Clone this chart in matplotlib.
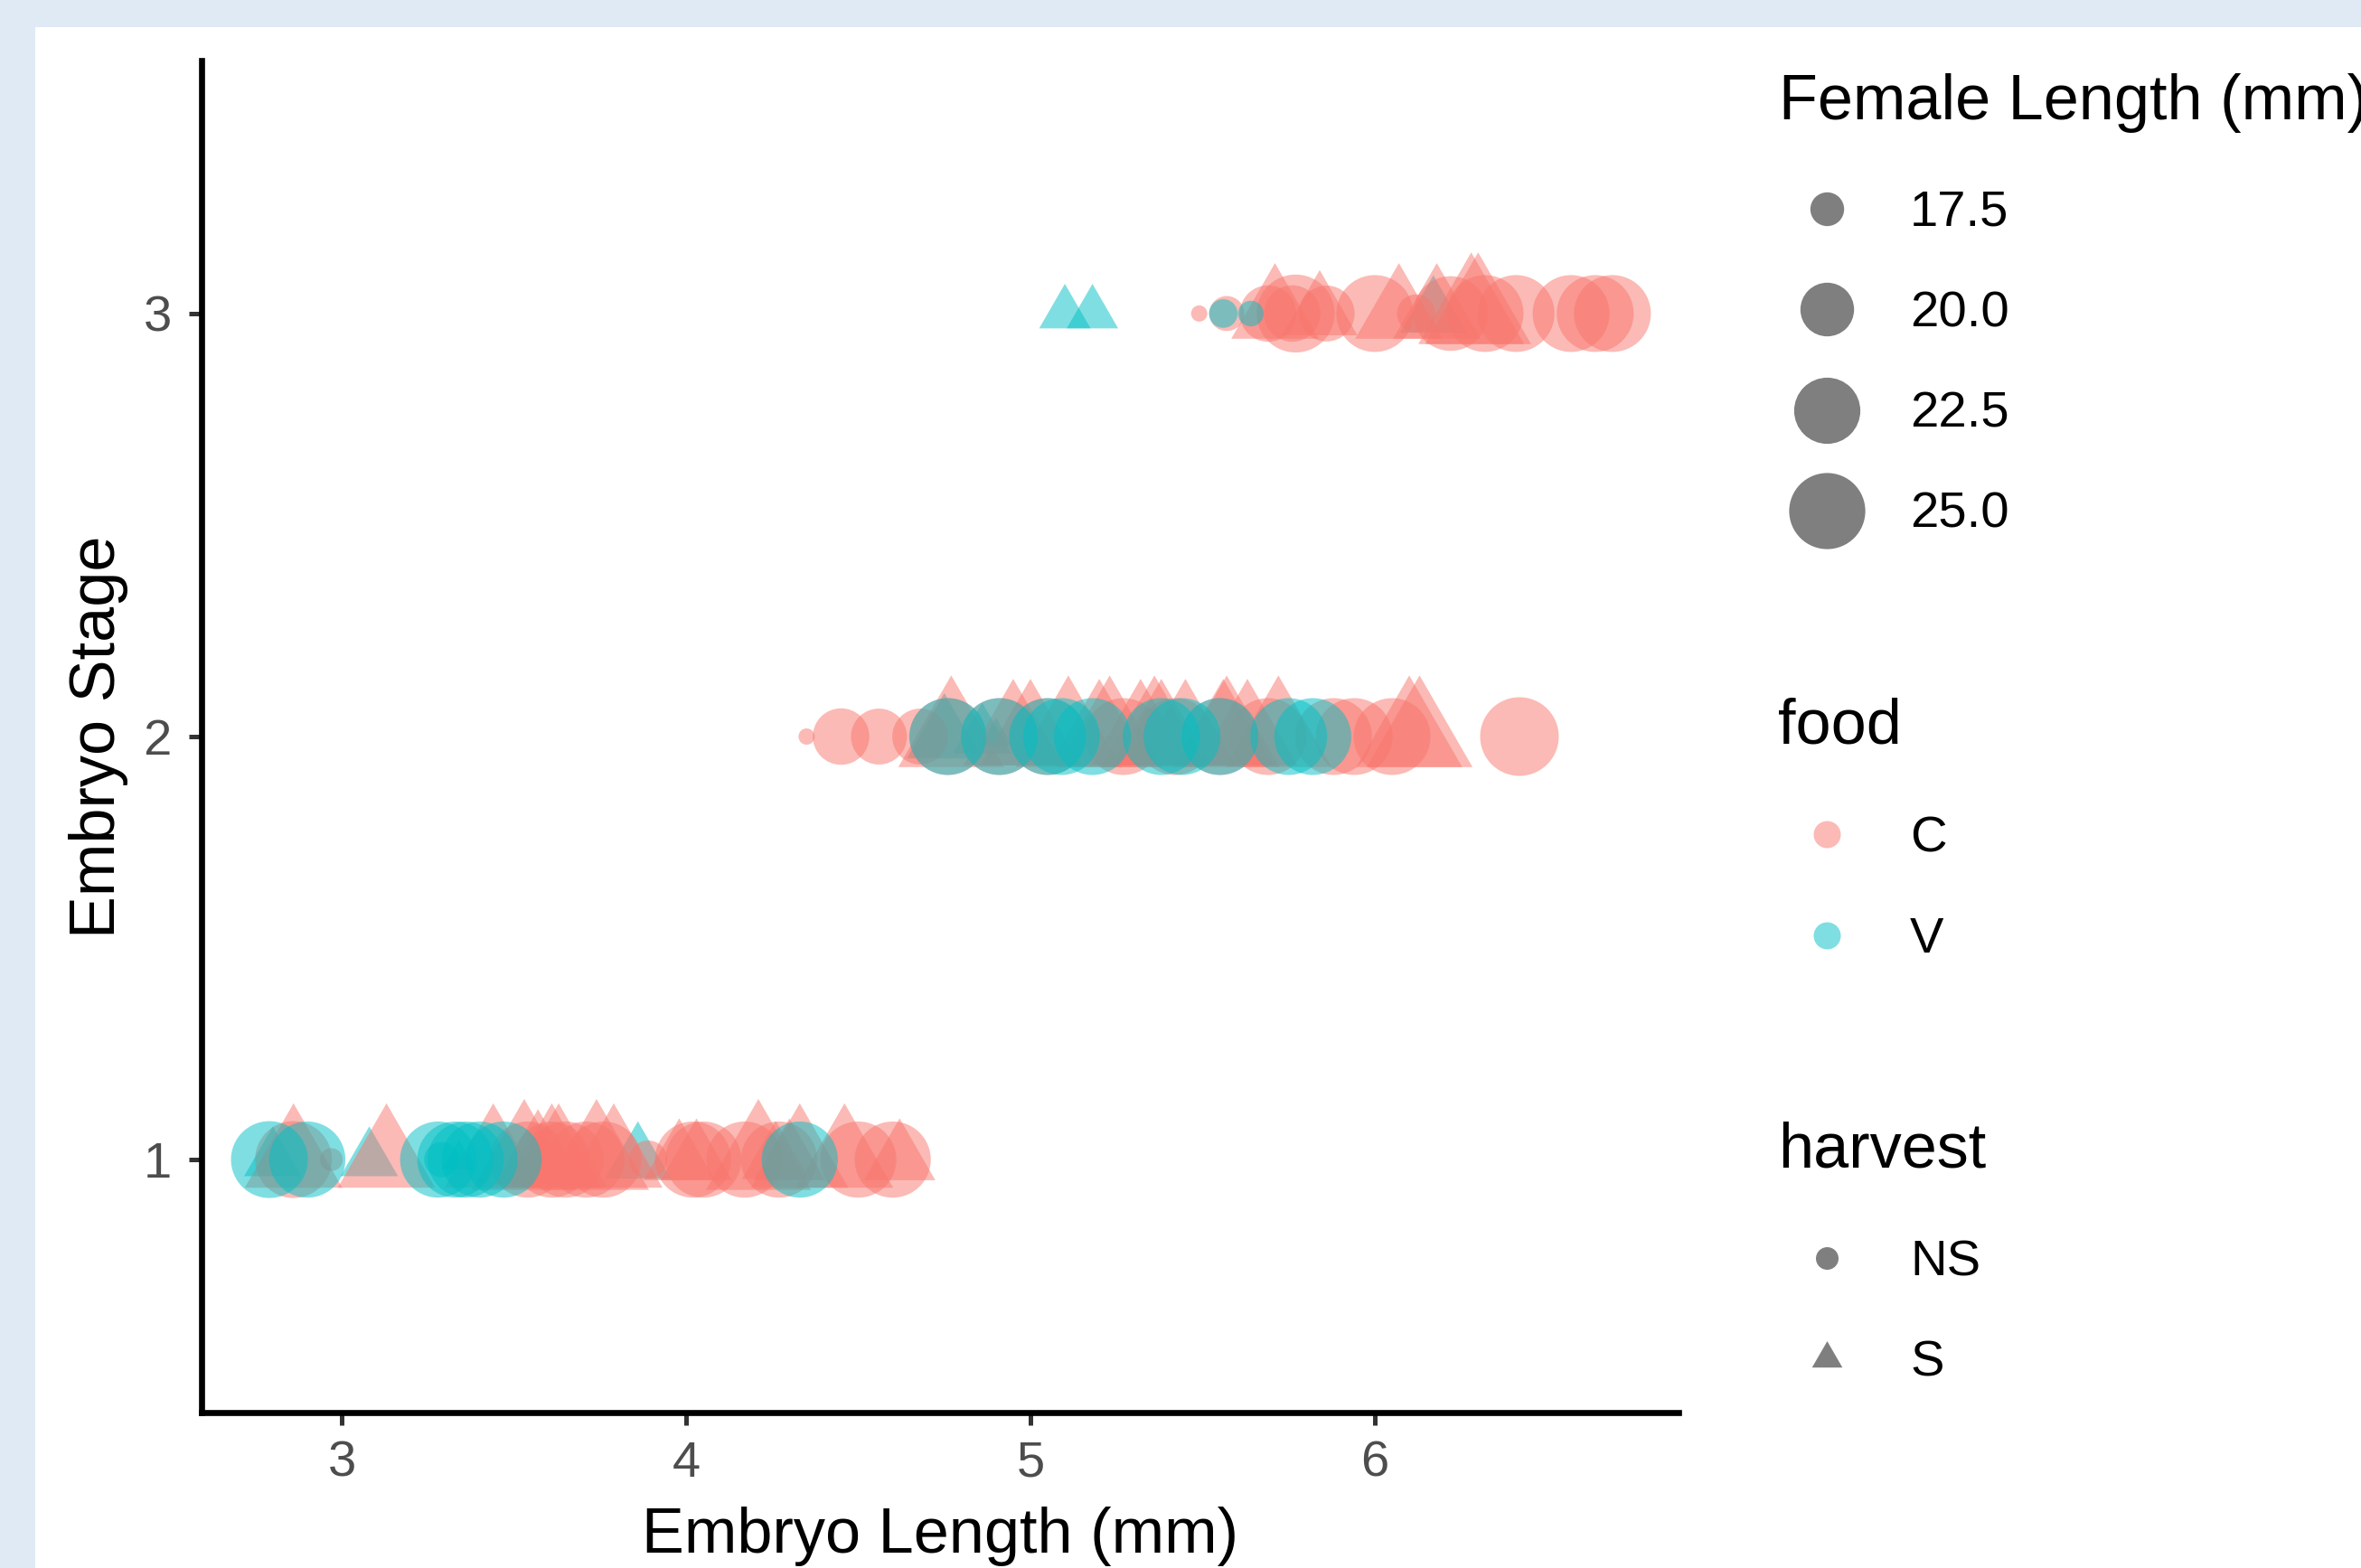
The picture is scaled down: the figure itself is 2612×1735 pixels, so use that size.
import numpy as np
import matplotlib
matplotlib.use("Agg")
import matplotlib.pyplot as plt
from matplotlib.path import Path
from matplotlib.patches import Rectangle

plt.rcParams['font.family'] = ['Liberation Sans', 'DejaVu Sans']

# data: stage, embryo length, female length, food, harvest
stage = [1] * 44 + [2] * 44 + [3] * 25
emb_len = [
    # stage 1
    2.79, 2.90, 2.86, 2.86, 2.80, 2.97, 3.13, 3.08, 3.28, 3.33, 3.29, 3.34,
    3.36, 3.40, 3.47, 3.44, 3.53, 3.57, 3.61, 3.63, 3.74, 3.79, 3.86, 3.98,
    4.03, 3.54, 3.61, 3.65, 3.71, 3.76, 3.89, 4.02, 4.05, 4.17, 4.21, 4.27,
    4.26, 4.30, 4.33, 4.33, 4.46, 4.50, 4.60, 4.62,
    # stage 2
    4.35, 4.45, 4.56, 4.68, 4.77, 4.76, 4.76, 4.75, 4.86, 4.90, 4.91, 4.91,
    4.95, 5.05, 5.05, 5.09, 5.18, 5.38, 5.44, 5.55, 5.75, 5.82, 5.11, 5.20,
    5.23, 5.32, 5.36, 5.38, 5.45, 5.56, 5.57, 5.63, 5.72, 5.27, 5.42, 5.55,
    5.69, 5.88, 5.94, 6.05, 6.10, 6.13, 6.42, 5.00,
    # stage 3
    5.10, 5.18, 5.49, 5.57, 5.56, 5.64, 5.69, 5.71, 5.77, 5.76, 5.84, 5.86,
    6.00, 6.07, 6.12, 6.18, 6.17, 6.22, 6.28, 6.30, 6.32, 6.41, 6.57, 6.64,
    6.69,
]
female_len = [
    # stage 1
    25.2, 25.0, 25.2, 24.0, 18.4, 16.9, 24.0, 18.4, 25.0, 25.0, 17.6, 17.0,
    25.0, 25.0, 25.0, 24.0, 25.5, 22.2, 24.0, 24.0, 25.5, 24.0, 19.3, 19.9,
    19.9, 25.0, 25.0, 25.0, 25.0, 25.0, 17.9, 25.0, 25.0, 25.0, 25.5, 25.0,
    19.4, 19.9, 25.0, 24.0, 24.0, 25.0, 25.0, 19.9,
    # stage 2
    16.8, 20.5, 20.4, 20.4, 25.7, 25.2, 25.2, 20.4, 18.5, 16.95, 25.2, 25.2,
    24.5, 25.2, 25.2, 25.2, 25.2, 25.2, 25.2, 25.2, 25.2, 25.2, 25.7, 24.5,
    25.7, 24.5, 25.7, 24.5, 24.5, 24.5, 25.7, 24.5, 25.7, 25.2, 25.2, 25.2,
    25.2, 25.2, 25.2, 25.2, 25.7, 25.7, 25.7, 24.5,
    # stage 3
    17.9, 17.9, 16.8, 17.6, 17.15, 17.0, 20.5, 22.2, 25.5, 20.5, 20.4, 20.4,
    25.2, 22.2, 17.9, 22.2, 19.3, 24.6, 25.7, 25.7, 25.2, 25.2, 25.2, 25.2,
    25.2,
]
food = (
    list("VVCCVCCVVVVVVVVCCCCCCCVCCCCCCCCCCCCCCCVCCCCC")
    + list("CCCCCCVVVVVCCVCVVVVVVVCCCCCCCCCCCCCCCCCCCCCC")
    + list("VVCCVVCCCCCCCCCCVCCCCCCCC")
)
harvest = (
    ["NS", "NS", "NS", "S", "S", "NS", "S", "S", "NS", "NS", "NS", "S",
     "NS", "NS", "NS", "S", "S", "S", "S", "S", "S", "S", "S", "S",
     "S", "NS", "NS", "NS", "NS", "NS", "NS", "NS", "NS", "NS", "S", "NS",
     "S", "S", "NS", "S", "S", "NS", "NS", "S"]
    + ["NS", "NS", "NS", "NS", "S", "NS", "NS", "S", "S", "S", "NS", "NS",
       "S", "NS", "NS", "NS", "NS", "NS", "NS", "NS", "NS", "NS", "S", "S",
       "S", "S", "S", "S", "S", "S", "S", "S", "S", "NS", "NS", "NS",
       "NS", "NS", "NS", "NS", "S", "S", "NS", "S"]
    + ["S", "S", "NS", "NS", "NS", "NS", "NS", "S", "NS", "NS", "S", "NS",
       "NS", "S", "NS", "S", "S", "NS", "S", "S", "NS", "NS", "NS", "NS",
       "NS"]
)

size_breaks = [17.5, 20.0, 22.5, 25.0]
food_levels = ["C", "V"]
harvest_levels = ["NS", "S"]
colors = {"C": "#F8766D", "V": "#00BFC4"}

stage = np.array(stage)
emb_len = np.array(emb_len)
female_len = np.array(female_len)
food = np.array(food)
harvest = np.array(harvest)

DPI = 200
PX2PT = 72.0 / DPI
vmin, vmax = female_len.min(), female_len.max()


def diam_px(v):
    # ggplot-like area scale: diameter grows with sqrt of rescaled value
    return 18 + 69 * np.sqrt((np.asarray(v) - vmin) / (vmax - vmin))


# R-style triangle, centred on its centroid
tri = Path([(0, 1), (-np.sqrt(3) / 2, -0.5), (np.sqrt(3) / 2, -0.5), (0, 1)],
           [Path.MOVETO, Path.LINETO, Path.LINETO, Path.CLOSEPOLY])


def marker_area(d, shape):
    pt = d * PX2PT
    if shape == "S":
        pt = pt * 1.555
    return pt ** 2


fig = plt.figure(figsize=(2612 / DPI, 1735 / DPI), dpi=DPI)
fig.patch.set_facecolor("#dfeaf5")
fig.patches.append(Rectangle((39 / 2612, 0), 1, 1 - 30 / 1735, transform=fig.transFigure,
                             facecolor="white", edgecolor="none", zorder=-5))

ax = fig.add_axes([223 / 2612, 1 - 1563 / 1735, (1857 - 223) / 2612, (1563 - 67) / 1735])
ax.set_facecolor("none")

# draw order: V triangles, C circles, C triangles, V circles
for f, h in [("V", "S"), ("C", "NS"), ("C", "S"), ("V", "NS")]:
    m = (food == f) & (harvest == h)
    ax.scatter(emb_len[m], stage[m], s=marker_area(diam_px(female_len[m]), h),
               marker=tri if h == "S" else "o", color=colors[f], alpha=0.5,
               linewidths=0, zorder=3)

ax.set_xlim(2.593, 6.882)
ax.set_ylim(0.402, 3.598)
ax.set_xticks([3, 4, 5, 6])
ax.set_yticks([1, 2, 3])
for s in ["top", "right"]:
    ax.spines[s].set_visible(False)
for s in ["left", "bottom"]:
    ax.spines[s].set_linewidth(2.4)
    ax.spines[s].set_color("black")
ax.tick_params(axis="both", length=5, width=1.8, color="#333333",
               labelsize=20.2, labelcolor="#4D4D4D")
ax.tick_params(axis="x", pad=6)
ax.tick_params(axis="y", pad=7)

# overlay in pixel coordinates for titles and legend
ov = fig.add_axes([0, 0, 1, 1])
ov.set_xlim(0, 2612)
ov.set_ylim(1735, 0)
ov.axis("off")
ov.set_facecolor("none")

ov.text(1040, 1718, "Embryo Length (mm)", fontsize=25.3, ha="center", va="baseline")
ov.text(109, 815, "Embryo Stage", fontsize=25.3, ha="center", va="center", rotation=90)

# size legend
ov.text(1968, 132, "Female Length (mm)", fontsize=25.3, ha="left", va="baseline")
for i, b in enumerate(size_breaks):
    y = 231 + i * 111.3
    ov.scatter([2021], [y], s=marker_area(diam_px(b), "NS"), color="black", alpha=0.5,
               linewidths=0)
    ov.text(2113, y + 5, f"{b:.1f}", fontsize=20.2, ha="left", va="center")

# food legend
ov.text(1967, 822, "food", fontsize=25.3, ha="left", va="baseline")
for i, f in enumerate(food_levels):
    y = 923 + i * 112
    ov.scatter([2021], [y], s=marker_area(30, "NS"), color=colors[f], alpha=0.5, linewidths=0)
    ov.text(2113, y + 5, f, fontsize=20.2, ha="left", va="center")

# harvest legend
ov.text(1967, 1291, "harvest", fontsize=25.3, ha="left", va="baseline")
for i, h in enumerate(harvest_levels):
    y = 1392 + i * 111
    ov.scatter([2021], [y], s=marker_area(25, h), marker=tri if h == "S" else "o",
               color="black", alpha=0.5, linewidths=0)
    ov.text(2113, y + 5, h, fontsize=20.2, ha="left", va="center")

fig.savefig("out.png", dpi=DPI)
